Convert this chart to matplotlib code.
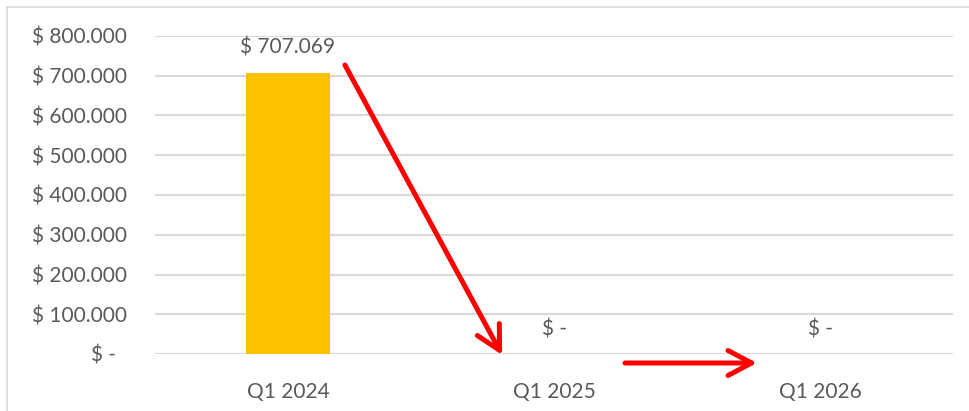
import matplotlib.pyplot as plt
from matplotlib.lines import Line2D

# Chart data
categories = ["Q1 2024", "Q1 2025", "Q1 2026"]
values = [707069, 0, 0]
y_ticks = [0, 100000, 200000, 300000, 400000, 500000, 600000, 700000, 800000]


def money(v):
    # Excel accounting style with dot as thousands separator
    if v == 0:
        return "$ -  "
    return "$ " + f"{v:,.0f}".replace(",", ".")


plt.rcParams['font.family'] = ['Lato', 'DejaVu Sans']
text_color = "#595959"
grid_color = "#D9D9D9"
fs = 15

fig = plt.figure(figsize=(9.69, 4.11), dpi=100)
ax = fig.add_axes([155 / 969, 1 - 354 / 411, (953 - 155) / 969, 318 / 411])

x = list(range(len(categories)))
bars = ax.bar(x, values, width=0.316, color="#FFC000", zorder=2)

ax.set_xlim(-0.5, len(categories) - 0.5)
ax.set_ylim(0, 800000)
ax.set_yticks(y_ticks)
ax.set_yticklabels([money(v) for v in y_ticks])
ax.set_xticks(x)
ax.set_xticklabels(categories)

ax.grid(axis="y", color=grid_color, linewidth=1.5, zorder=0)
for s in ax.spines.values():
    s.set_visible(False)
ax.tick_params(axis="both", length=0, labelsize=fs, colors=text_color)
ax.tick_params(axis="y", pad=20)
ax.tick_params(axis="x", pad=20)

# data labels above bars
for xi, v in zip(x, values):
    ax.annotate(money(v).strip(), (xi, v), xytext=(0, 18), textcoords="offset points",
                ha="center", va="center", fontsize=fs, color=text_color)

# red arrows
arrow_kw = dict(arrowstyle="->,head_length=0.85,head_width=0.45", color="#FF0000",
                lw=3.6, mutation_scale=20, shrinkA=0, shrinkB=0)
ax.annotate("", xy=(0.805, -2500), xytext=(0.214, 727000),
            arrowprops=arrow_kw, annotation_clip=False)
ax.annotate("", xy=(1.763, -22600), xytext=(1.267, -22600),
            arrowprops=arrow_kw, annotation_clip=False)

# light chart border (top and left)
fig.add_artist(Line2D([7 / 969, 1], [1 - 7 / 411, 1 - 7 / 411], color=grid_color, lw=1.2))
fig.add_artist(Line2D([7 / 969, 7 / 969], [0, 1 - 7 / 411], color=grid_color, lw=1.2))

fig.savefig("out.png", dpi=100)
